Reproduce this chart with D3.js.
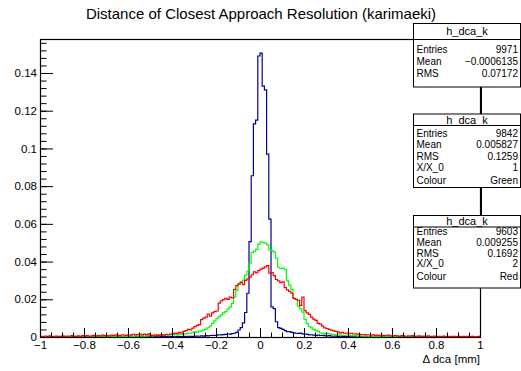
<!DOCTYPE html>
<html>
<head>
<meta charset="utf-8">
<script src="https://cdn.jsdelivr.net/npm/d3@7"></script>
<style>
  body { margin: 0; background: #fff; }
  text { font-family: "Liberation Sans", Arial, Helvetica, sans-serif; }
</style>
</head>
<body>
<div id="chart"></div>
<script>
// histogram range, 200 bins of 0.01
var xMin = -1, xMax = 1;

var blueValues = [
  0,0,0,0.0001,0,0,0,0,0.0001,0,
  0,0,0.0001,0,0,0,0.0001,0,0,0,
  0.0001,0,0,0,0.0001,0,0,0.0001,0,0,
  0,0.0001,0,0,0.0001,0,0.0001,0,0,0.0001,
  0,0.0001,0,0.0001,0,0.0001,0.0001,0,0.0001,0.0001,
  0.0001,0,0.0002,0.0001,0.0001,0.0002,0.0001,0.0002,0.0001,0.0002,
  0.0002,0.0001,0.0003,0.0002,0.0002,0.0003,0.0002,0.0004,0.0003,0.0003,
  0.0004,0.0005,0.0004,0.0006,0.0005,0.0007,0.0006,0.0008,0.0009,0.0008,
  0.0010,0.0012,0.0011,0.0013,0.0014,0.0016,0.0015,0.0018,0.0020,0.0024,
  0.0037,0.0050,0.0075,0.0130,0.0232,0.0506,0.0855,0.1130,0.1150,0.1490,
  0.1505,0.1330,0.1310,0.0970,0.0625,0.0160,0.0150,0.0081,0.0050,0.0046,
  0.0040,0.0034,0.0029,0.0028,0.0025,0.0022,0.0020,0.0019,0.0021,0.0017,
  0.0015,0.0014,0.0011,0.0012,0.0010,0.0009,0.0010,0.0008,0.0009,0.0007,
  0.0006,0.0007,0.0005,0.0004,0.0005,0.0003,0.0004,0.0003,0.0002,0.0003,
  0.0002,0.0001,0.0002,0.0001,0.0001,0.0002,0.0001,0,0.0001,0.0001,
  0,0.0001,0,0.0001,0,0,0.0001,0,0,0.0001,
  0,0,0.0001,0,0,0,0.0001,0,0,0,
  0.0001,0,0,0,0,0.0001,0,0,0,0,
  0,0,0.0001,0,0,0,0,0.0001,0,0,
  0,0,0,0,0.0001,0,0,0,0,0
];

var greenValues = [
  0.0001,0,0.0002,0.0001,0,0.0001,0.0002,0,0.0001,0.0001,
  0.0002,0.0001,0,0.0001,0.0002,0.0001,0.0001,0.0003,0.0001,0.0002,
  0.0001,0.0002,0.0003,0.0001,0.0002,0.0002,0.0003,0.0002,0.0001,0.0003,
  0.0002,0.0003,0.0002,0.0004,0.0003,0.0002,0.0004,0.0003,0.0005,0.0003,
  0.0004,0.0005,0.0003,0.0006,0.0004,0.0005,0.0007,0.0005,0.0006,0.0008,
  0.0006,0.0008,0.0007,0.0009,0.0008,0.0010,0.0009,0.0011,0.0010,0.0012,
  0.0011,0.0013,0.0012,0.0015,0.0014,0.0018,0.0017,0.0021,0.0020,0.0024,
  0.0028,0.0026,0.0031,0.0033,0.0038,0.0042,0.0049,0.0058,0.0072,0.0085,
  0.0098,0.0108,0.0118,0.0128,0.0135,0.0148,0.0158,0.0178,0.0212,0.0248,
  0.0280,0.0292,0.0302,0.0328,0.0350,0.0392,0.0448,0.0455,0.0465,0.0492,
  0.0505,0.0500,0.0498,0.0488,0.0462,0.0458,0.0450,0.0418,0.0370,0.0362,
  0.0365,0.0358,0.0298,0.0275,0.0252,0.0205,0.0198,0.0162,0.0150,0.0132,
  0.0092,0.0072,0.0055,0.0048,0.0040,0.0035,0.0030,0.0022,0.0020,0.0018,
  0.0021,0.0017,0.0015,0.0012,0.0013,0.0010,0.0011,0.0009,0.0008,0.0009,
  0.0007,0.0008,0.0006,0.0007,0.0005,0.0006,0.0004,0.0005,0.0004,0.0003,
  0.0004,0.0003,0.0003,0.0002,0.0003,0.0002,0.0002,0.0003,0.0001,0.0002,
  0.0001,0.0002,0.0001,0.0001,0.0002,0,0.0001,0.0001,0,0.0001,
  0.0001,0,0.0001,0,0.0001,0.0001,0,0,0.0001,0,
  0,0.0001,0,0,0.0001,0,0,0.0001,0,0,
  0.0001,0,0,0,0.0001,0,0,0,0.0001,0
];

var redValues = [
  0.0004,0.0002,0.0005,0.0003,0.0006,0.0002,0.0004,0.0005,0.0003,0.0004,
  0.0006,0.0003,0.0005,0.0004,0.0007,0.0005,0.0003,0.0006,0.0004,0.0008,
  0.0005,0.0007,0.0004,0.0006,0.0009,0.0005,0.0007,0.0006,0.0010,0.0007,
  0.0008,0.0006,0.0010,0.0008,0.0011,0.0009,0.0007,0.0012,0.0010,0.0009,
  0.0012,0.0010,0.0014,0.0011,0.0013,0.0016,0.0012,0.0015,0.0013,0.0017,
  0.0010,0.0008,0.0012,0.0009,0.0011,0.0013,0.0010,0.0014,0.0012,0.0016,
  0.0018,0.0021,0.0019,0.0024,0.0022,0.0030,0.0034,0.0040,0.0038,0.0047,
  0.0055,0.0062,0.0066,0.0092,0.0100,0.0105,0.0122,0.0110,0.0128,0.0135,
  0.0138,0.0180,0.0192,0.0198,0.0205,0.0200,0.0212,0.0208,0.0252,0.0272,
  0.0282,0.0290,0.0278,0.0300,0.0308,0.0318,0.0330,0.0345,0.0340,0.0352,
  0.0360,0.0365,0.0372,0.0378,0.0338,0.0342,0.0325,0.0305,0.0298,0.0288,
  0.0292,0.0262,0.0250,0.0242,0.0232,0.0205,0.0200,0.0195,0.0168,0.0212,
  0.0140,0.0128,0.0120,0.0105,0.0095,0.0088,0.0072,0.0068,0.0058,0.0048,
  0.0045,0.0040,0.0036,0.0032,0.0030,0.0027,0.0022,0.0024,0.0020,0.0021,
  0.0018,0.0020,0.0016,0.0017,0.0015,0.0014,0.0012,0.0013,0.0011,0.0012,
  0.0010,0.0011,0.0009,0.0010,0.0008,0.0009,0.0007,0.0008,0.0010,0.0006,
  0.0007,0.0008,0.0006,0.0005,0.0007,0.0006,0.0004,0.0006,0.0005,0.0007,
  0.0004,0.0005,0.0006,0.0003,0.0005,0.0004,0.0006,0.0003,0.0004,0.0005,
  0.0003,0.0004,0.0002,0.0005,0.0003,0.0004,0.0002,0.0003,0.0004,0.0002,
  0.0003,0.0002,0.0004,0.0002,0.0003,0.0001,0.0003,0.0002,0.0002,0.0003
];

var xTicks = [-1, -0.8, -0.6, -0.4, -0.2, 0, 0.2, 0.4, 0.6, 0.8, 1];
var yTicks = [0, 0.02, 0.04, 0.06, 0.08, 0.1, 0.12, 0.14];

var histColors = ["#000099", "#00ff00", "#ff0000"];

var statNames   = ["h_dca_k", "h_dca_k", "h_dca_k"];
var statEntries = ["9971", "9842", "9603"];
var statMeans   = ["\u22120.0006135", "0.005827", "0.009255"];
var statRms     = ["0.07172", "0.1259", "0.1692"];
var statX0      = [null, "1", "2"];
var statColours = [null, "Green", "Red"];

var width = 521, height = 371;
var frame = {left: 40, right: 480, top: 39, bottom: 337};

var svg = d3.select("#chart").append("svg")
    .attr("width", width)
    .attr("height", height);

svg.append("text")
    .attr("x", 261)
    .attr("y", 19)
    .attr("text-anchor", "middle")
    .style("font-size", "15px")
    .text("Distance of Closest Approach Resolution (karimaeki)");

var x = d3.scaleLinear()
    .domain([xMin, xMax])
    .range([frame.left, frame.right]);

var yMax = 1.05 * d3.max(blueValues);
var y = d3.scaleLinear()
    .domain([0, yMax])
    .range([frame.bottom, frame.top]);

svg.append("clipPath").attr("id", "frameClip")
  .append("rect")
    .attr("x", frame.left).attr("y", frame.top)
    .attr("width", frame.right - frame.left)
    .attr("height", frame.bottom - frame.top);

function stepPoints(values) {
  var n = values.length, w = (xMax - xMin) / n;
  var pts = values.map(function(v, i) { return [xMin + i * w, v]; });
  pts.push([xMax, values[n - 1]]);
  return pts;
}

var line = d3.line()
    .x(function(d) { return x(d[0]); })
    .y(function(d) { return y(d[1]); })
    .curve(d3.curveStepAfter);

[blueValues, greenValues, redValues].forEach(function(vals, k) {
  svg.append("path")
      .attr("clip-path", "url(#frameClip)")
      .attr("d", line(stepPoints(vals)))
      .attr("fill", "none")
      .attr("stroke", histColors[k])
      .attr("stroke-width", 1.2);
});

// x axis ticks (inward) and labels
var fmt = function(d) { return d === 0 ? "0" : d3.format("~g")(d); };
var xMinor = d3.range(-1, 1.0001, 0.05);
var yMinor = d3.range(0, yMax, 0.004);

var xAxisMinor = svg.append("g")
    .attr("transform", "translate(0," + frame.bottom + ")")
    .call(d3.axisBottom(x).tickValues(xMinor).tickSize(-4.5).tickFormat(""));
var xAxis = svg.append("g")
    .attr("transform", "translate(0," + frame.bottom + ")")
    .call(d3.axisBottom(x).tickValues(xTicks).tickSize(-9).tickPadding(4).tickFormat(fmt));

var yAxisMinor = svg.append("g")
    .attr("transform", "translate(" + frame.left + ",0)")
    .call(d3.axisLeft(y).tickValues(yMinor).tickSize(-6.6).tickFormat(""));
var yAxis = svg.append("g")
    .attr("transform", "translate(" + frame.left + ",0)")
    .call(d3.axisLeft(y).tickValues(yTicks).tickSize(-13).tickPadding(3).tickFormat(fmt));

[xAxisMinor, xAxis, yAxisMinor, yAxis].forEach(function(g) {
  g.select(".domain").remove();
  g.selectAll("line").attr("stroke", "#000");
  g.selectAll("text")
      .attr("fill", "#000")
      .style("font-size", "11.5px");
});

svg.append("rect")
    .attr("x", frame.left + 0.5)
    .attr("y", frame.top + 0.5)
    .attr("width", frame.right - frame.left)
    .attr("height", frame.bottom - frame.top)
    .attr("fill", "none")
    .attr("stroke", "#000")
    .attr("stroke-width", 1.2);

svg.append("text")
    .attr("x", frame.right)
    .attr("y", 363)
    .attr("text-anchor", "end")
    .style("font-size", "11.5px")
    .text("\u0394 dca [mm]");

// stats boxes
var boxes = [
  {top: 23.5, div: 39.5, bottom: 87, titleY: 35, rows: [52.5, 65, 77]},
  {top: 114, div: 125.5, bottom: 187.5, titleY: 123.5, rows: [136.5, 148, 160, 171, 183.5]},
  {top: 215.5, div: 227, bottom: 288, titleY: 225, rows: [234.5, 246, 256.5, 267, 280]}
];
var boxLeft = 413.5, boxRight = 520.5, connX = 481.5;

boxes.forEach(function(b, k) {
  var g = svg.append("g");
  if (k > 0) {
    g.append("line")
        .attr("x1", connX).attr("x2", connX)
        .attr("y1", boxes[k - 1].bottom).attr("y2", b.top)
        .attr("stroke", "#000");
  }
  g.append("rect")
      .attr("x", boxLeft).attr("y", b.top)
      .attr("width", boxRight - boxLeft).attr("height", b.bottom - b.top)
      .attr("fill", "#fff").attr("stroke", "#000");
  g.append("line")
      .attr("x1", boxLeft).attr("x2", boxRight)
      .attr("y1", b.div).attr("y2", b.div)
      .attr("stroke", "#000");
  g.append("text")
      .attr("x", (boxLeft + boxRight) / 2).attr("y", b.titleY)
      .attr("text-anchor", "middle")
      .style("font-size", "11px")
      .text(statNames[k]);
  var rows = [["Entries", statEntries[k]], ["Mean", statMeans[k]], ["RMS", statRms[k]]];
  if (statX0[k] !== null) rows.push(["X/X_0", statX0[k]]);
  if (statColours[k] !== null) rows.push(["Colour", statColours[k]]);
  rows.forEach(function(r, j) {
    g.append("text")
        .attr("x", boxLeft + 3).attr("y", b.rows[j])
        .style("font-size", "10px")
        .text(r[0]);
    g.append("text")
        .attr("x", boxRight - 2.5).attr("y", b.rows[j])
        .attr("text-anchor", "end")
        .style("font-size", "10px")
        .text(r[1]);
  });
});
</script>
</body>
</html>
